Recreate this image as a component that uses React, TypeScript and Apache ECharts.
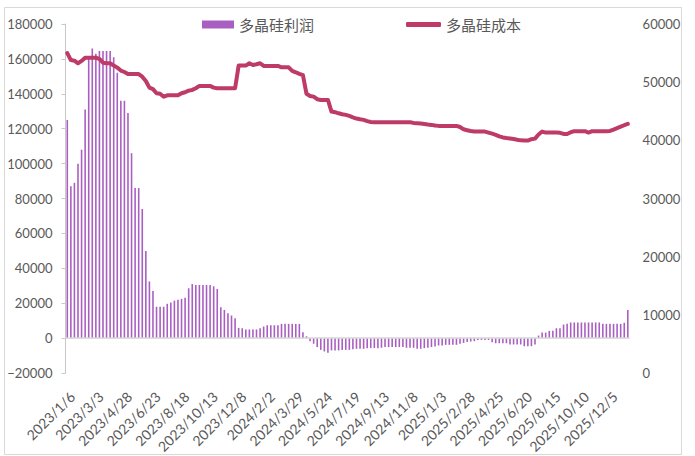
import React, { useEffect, useRef } from 'react';
import * as echarts from 'echarts';

const categories: string[] = [
  '2023/1/6', '2023/1/13', '2023/1/20', '2023/1/27', '2023/2/3', '2023/2/10', '2023/2/17', '2023/2/24', '2023/3/3', '2023/3/10',
  '2023/3/17', '2023/3/24', '2023/3/31', '2023/4/7', '2023/4/14', '2023/4/21', '2023/4/28', '2023/5/5', '2023/5/12', '2023/5/19',
  '2023/5/26', '2023/6/2', '2023/6/9', '2023/6/16', '2023/6/23', '2023/6/30', '2023/7/7', '2023/7/14', '2023/7/21', '2023/7/28',
  '2023/8/4', '2023/8/11', '2023/8/18', '2023/8/25', '2023/9/1', '2023/9/8', '2023/9/15', '2023/9/22', '2023/9/29', '2023/10/6',
  '2023/10/13', '2023/10/20', '2023/10/27', '2023/11/3', '2023/11/10', '2023/11/17', '2023/11/24', '2023/12/1', '2023/12/8', '2023/12/15',
  '2023/12/22', '2023/12/29', '2024/1/5', '2024/1/12', '2024/1/19', '2024/1/26', '2024/2/2', '2024/2/9', '2024/2/16', '2024/2/23',
  '2024/3/1', '2024/3/8', '2024/3/15', '2024/3/22', '2024/3/29', '2024/4/5', '2024/4/12', '2024/4/19', '2024/4/26', '2024/5/3',
  '2024/5/10', '2024/5/17', '2024/5/24', '2024/5/31', '2024/6/7', '2024/6/14', '2024/6/21', '2024/6/28', '2024/7/5', '2024/7/12',
  '2024/7/19', '2024/7/26', '2024/8/2', '2024/8/9', '2024/8/16', '2024/8/23', '2024/8/30', '2024/9/6', '2024/9/13', '2024/9/20',
  '2024/9/27', '2024/10/4', '2024/10/11', '2024/10/18', '2024/10/25', '2024/11/1', '2024/11/8', '2024/11/15', '2024/11/22', '2024/11/29',
  '2024/12/6', '2024/12/13', '2024/12/20', '2024/12/27', '2025/1/3', '2025/1/10', '2025/1/17', '2025/1/24', '2025/1/31', '2025/2/7',
  '2025/2/14', '2025/2/21', '2025/2/28', '2025/3/7', '2025/3/14', '2025/3/21', '2025/3/28', '2025/4/4', '2025/4/11', '2025/4/18',
  '2025/4/25', '2025/5/2', '2025/5/9', '2025/5/16', '2025/5/23', '2025/5/30', '2025/6/6', '2025/6/13', '2025/6/20', '2025/6/27',
  '2025/7/4', '2025/7/11', '2025/7/18', '2025/7/25', '2025/8/1', '2025/8/8', '2025/8/15', '2025/8/22', '2025/8/29', '2025/9/5',
  '2025/9/12', '2025/9/19', '2025/9/26', '2025/10/3', '2025/10/10', '2025/10/17', '2025/10/24', '2025/10/31', '2025/11/7', '2025/11/14',
  '2025/11/21', '2025/11/28', '2025/12/5', '2025/12/12', '2025/12/19', '2025/12/26', '2026/1/2', '2026/1/9',
];

const profitName = '多晶硅利润';
const costName = '多晶硅成本';

const profit: number[] = [
  125000, 87000, 89000, 100000, 108000, 131000, 160000, 166000, 163000, 164500,
  164500, 164500, 164500, 161000, 152000, 136000, 136000, 129000, 106000, 86000,
  86000, 74000, 50000, 32500, 27000, 18000, 18000, 18000, 19700, 20500,
  21500, 22000, 22500, 23200, 28600, 31000, 30500, 30500, 30500, 30500,
  30500, 29700, 28200, 17700, 16200, 14300, 13000, 11400, 5900, 5700,
  5000, 5000, 5000, 5000, 5700, 6700, 7400, 7400, 7400, 7400,
  8200, 8200, 8200, 8200, 8200, 8200, 3400, 1100, -1700, -3200,
  -5100, -6700, -7600, -8400, -7000, -7000, -7000, -6700, -6700, -6700,
  -6300, -6100, -6100, -6100, -5700, -5700, -5700, -5700, -5500, -5100,
  -5100, -5100, -5100, -5100, -5100, -5500, -5500, -5500, -6100, -6100,
  -5700, -5500, -5100, -4800, -4200, -4200, -3800, -3800, -3800, -3800,
  -3200, -2700, -2200, -1900, -1700, -1000, -1000, -1000, -1000, -2300,
  -2900, -2900, -2900, -2900, -3600, -3600, -3600, -3600, -4600, -4600,
  -4600, -3600, 1500, 3200, 3200, 4200, 4200, 5700, 5700, 7800,
  8200, 9000, 9000, 9000, 9000, 9000, 9000, 9000, 9000, 9000,
  8200, 8200, 8200, 8200, 8200, 8200, 8800, 16200,
];

const cost: number[] = [
  55000, 53800, 53700, 53250, 53650, 54200, 54200, 54200, 54200, 54000,
  53350, 53250, 53250, 52850, 52500, 52000, 51750, 51400, 51400, 51400,
  51400, 50950, 50200, 49060, 48800, 48100, 48000, 47500, 47750, 47750,
  47750, 47750, 48100, 48270, 48550, 48670, 48960, 49360, 49360, 49360,
  49360, 49070, 48960, 48960, 48960, 48960, 48960, 48960, 52850, 52850,
  52850, 53250, 52960, 53080, 53250, 52790, 52790, 52790, 52790, 52790,
  52560, 52560, 52560, 51930, 51700, 51420, 51200, 48000, 47640, 47520,
  47070, 46950, 46950, 46950, 44950, 44840, 44650, 44500, 44380, 44200,
  43950, 43750, 43620, 43520, 43300, 43150, 43120, 43120, 43120, 43120,
  43120, 43120, 43120, 43120, 43120, 43120, 43120, 43000, 42950, 42890,
  42800, 42720, 42660, 42550, 42490, 42490, 42490, 42490, 42490, 42490,
  42300, 41900, 41750, 41600, 41510, 41510, 41510, 41510, 41340, 41150,
  40950, 40700, 40500, 40400, 40330, 40230, 40100, 40000, 39970, 39970,
  40200, 40300, 41000, 41510, 41340, 41340, 41340, 41340, 41300, 41100,
  41100, 41400, 41580, 41580, 41580, 41580, 41350, 41580, 41580, 41580,
  41580, 41580, 41620, 41850, 42100, 42350, 42600, 42830,
];

const leftAxisRange = { min: -20000, max: 180000, interval: 20000 };
const rightAxisRange = { min: 0, max: 60000, interval: 10000 };

const BAR_COLOR = '#a95fc2';
const LINE_COLOR = '#bd3b66';
const TEXT_COLOR = '#595959';
const AXIS_COLOR = '#c8c8c8';
const FONT = 'Lato, "Noto Sans", sans-serif';
const CJK_FONT = '"Noto Sans CJK SC", sans-serif';

const fmt = (v: number) => (v < 0 ? '\u2212' + Math.abs(v) : String(v));

export default function App() {
  const ref = useRef<HTMLDivElement>(null);

  useEffect(() => {
    if (!ref.current) return;
    const chart = echarts.init(ref.current, undefined, { renderer: 'svg' });
    chart.setOption({
      animation: false,
      backgroundColor: '#ffffff',
      grid: { left: 65.5, right: 65.4, top: 24, bottom: 82, containLabel: false },
      graphic: [
        {
          type: 'rect',
          shape: { x: 4.5, y: 7.5, width: 677, height: 447 },
          style: { fill: 'none', stroke: '#d9d9d9', lineWidth: 1 },
          silent: true,
          z: -10,
        },
      ],
      legend: [
        {
          data: [{ name: profitName, icon: 'rect' }],
          left: 202,
          top: 17,
          padding: 0,
          itemWidth: 32,
          itemHeight: 8,
          textStyle: { color: TEXT_COLOR, fontSize: 15, fontFamily: CJK_FONT },
          selectedMode: false,
        },
        {
          data: [{ name: costName, icon: 'roundRect' }],
          left: 406,
          top: 17,
          padding: 0,
          itemWidth: 35,
          itemHeight: 5,
          textStyle: { color: TEXT_COLOR, fontSize: 15, fontFamily: CJK_FONT },
          selectedMode: false,
        },
      ],
      xAxis: {
        type: 'category',
        data: categories,
        boundaryGap: true,
        axisLine: { show: false, onZero: false },
        axisTick: { show: false },
        splitLine: { show: false },
        axisLabel: {
          interval: 7,
          rotate: 45,
          margin: 16,
          align: 'right',
          verticalAlign: 'top',
          lineHeight: 14,
          color: TEXT_COLOR,
          fontSize: 14,
          fontFamily: FONT,
        },
      },
      yAxis: [
        {
          type: 'value',
          ...leftAxisRange,
          position: 'left',
          axisLine: { show: true, lineStyle: { color: AXIS_COLOR, width: 1 } },
          axisTick: { show: true, length: 4, lineStyle: { color: AXIS_COLOR } },
          splitLine: { show: false },
          axisLabel: { color: TEXT_COLOR, fontSize: 13, fontFamily: FONT, margin: 13, formatter: fmt },
        },
        {
          type: 'value',
          ...rightAxisRange,
          position: 'right',
          axisLine: { show: false },
          axisTick: { show: false },
          splitLine: { show: false },
          axisLabel: {
            color: TEXT_COLOR,
            fontSize: 13,
            fontFamily: FONT,
            margin: 13,
            formatter: (v: number) => String(v),
          },
        },
      ],
      series: [
        {
          name: profitName,
          type: 'bar',
          yAxisIndex: 0,
          data: profit,
          barWidth: 1.6,
          itemStyle: { color: BAR_COLOR },
          markLine: {
            silent: true,
            symbol: 'none',
            label: { show: false },
            lineStyle: { color: '#d6d6d6', width: 1.5, type: 'solid' },
            data: [{ yAxis: 0 }],
          },
        },
        {
          name: costName,
          type: 'line',
          yAxisIndex: 1,
          data: cost,
          symbol: 'none',
          itemStyle: { color: LINE_COLOR },
          lineStyle: { color: LINE_COLOR, width: 4, cap: 'round', join: 'round' },
          z: 5,
        },
      ],
    });
    return () => chart.dispose();
  }, []);

  return (
    <div
      ref={ref}
      style={{ position: 'absolute', left: 0, top: 0, width: 695, height: 456 }}
    />
  );
}
